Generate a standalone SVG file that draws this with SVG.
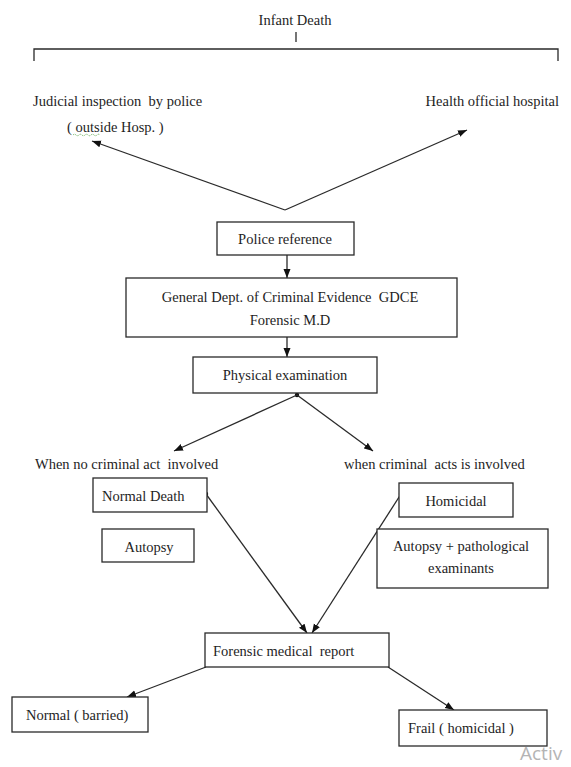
<svg xmlns="http://www.w3.org/2000/svg" width="571" height="767" viewBox="0 0 571 767">
<style>
  text { font-family: "Liberation Serif", "Times New Roman", serif; font-size: 14.5px; fill: #1e1e1e; }
  .box { fill: #ffffff; stroke: #2a2a2a; stroke-width: 1.3; }
  .ln { fill: none; stroke: #2a2a2a; stroke-width: 1.3; }
  .arr { marker-end: url(#ah); }
  .mid { text-anchor: middle; }
  .end { text-anchor: end; }
  .dot { fill: #111; }
  .wm { font-family: "Open Sans", "Noto Sans", sans-serif; font-size: 19px; fill: #b4b4b4; }
</style>
<defs>
  <marker id="ah" markerUnits="userSpaceOnUse" markerWidth="10" markerHeight="8" refX="9" refY="4" orient="auto">
    <path d="M0,0.5 L9,4 L0,7.5 Z" fill="#111"/>
  </marker>
</defs>
<rect width="571" height="767" fill="#ffffff"/>

<g id="connectors">
  <line class="ln" x1="296" y1="32" x2="296" y2="42"/>
  <path class="ln" d="M34,61 V49 H558 V61"/>
  <line class="ln arr" x1="285" y1="210" x2="92" y2="141"/>
  <line class="ln arr" x1="285" y1="210" x2="467" y2="130"/>
  <line class="ln arr" x1="287" y1="255" x2="287" y2="278"/>
  <line class="ln arr" x1="287" y1="337" x2="287" y2="357"/>
  <circle class="dot" cx="297" cy="395" r="2.2"/>
  <line class="ln arr" x1="297" y1="395" x2="174" y2="451"/>
  <line class="ln arr" x1="297" y1="395" x2="373" y2="451"/>
  <circle class="dot" cx="206" cy="494" r="2.2"/>
  <line class="ln arr" x1="206" y1="494" x2="307" y2="633"/>
  <circle class="dot" cx="401" cy="494" r="2.2"/>
  <line class="ln arr" x1="401" y1="494" x2="312" y2="633"/>
  <line class="ln arr" x1="206" y1="667" x2="127" y2="697"/>
  <line class="ln arr" x1="388" y1="667" x2="454" y2="710"/>
</g>

<g id="infant-death">
  <text class="mid" x="295" y="25">Infant Death</text>
</g>
<g id="judicial">
  <text x="33" y="106" xml:space="preserve">Judicial inspection  by police</text>
  <text x="67" y="132">( outside Hosp. )</text>
  <path d="M73,135 q1.5,-1.5 3,0 t3,0 t3,0 t3,0 t3,0 t3,0 t3,0 t3,0 t3,0" fill="none" stroke="#5aa64a" stroke-width="0.8" stroke-dasharray="1.2,0.8"/>
</g>
<g id="health">
  <text class="end" x="559" y="106">Health official hospital</text>
</g>
<g id="police-reference">
  <rect class="box" x="217" y="222" width="137" height="33"/>
  <text class="mid" x="285" y="244">Police reference</text>
</g>
<g id="gdce">
  <rect class="box" x="126" y="278" width="331" height="59"/>
  <text class="mid" x="290" y="302" xml:space="preserve">General Dept. of Criminal Evidence  GDCE</text>
  <text class="mid" x="290" y="325">Forensic M.D</text>
</g>
<g id="physical">
  <rect class="box" x="193" y="357" width="184" height="36"/>
  <text class="mid" x="285" y="380">Physical examination</text>
</g>
<g id="no-criminal">
  <text x="35" y="469" xml:space="preserve">When no criminal act  involved</text>
</g>
<g id="criminal">
  <text x="344" y="469" xml:space="preserve">when criminal  acts is involved</text>
</g>
<g id="normal-death">
  <rect class="box" x="93" y="478" width="114" height="34"/>
  <text x="102" y="501">Normal Death</text>
</g>
<g id="autopsy">
  <rect class="box" x="102" y="529" width="92" height="33"/>
  <text class="mid" x="149" y="552">Autopsy</text>
</g>
<g id="homicidal">
  <rect class="box" x="399" y="483" width="114" height="34"/>
  <text class="mid" x="456" y="506">Homicidal</text>
</g>
<g id="autopsy-path">
  <rect class="box" x="377" y="529" width="171" height="59"/>
  <text class="mid" x="461" y="551">Autopsy + pathological</text>
  <text class="mid" x="461" y="573">examinants</text>
</g>
<g id="forensic-report">
  <rect class="box" x="205" y="633" width="184" height="34"/>
  <text x="213" y="656" xml:space="preserve">Forensic medical  report</text>
</g>
<g id="normal-barried">
  <rect class="box" x="12" y="697" width="136" height="35"/>
  <text x="26" y="720">Normal ( barried)</text>
</g>
<g id="frail">
  <rect class="box" x="399" y="710" width="148" height="36"/>
  <text x="408" y="733">Frail ( homicidal )</text>
</g>
<text class="wm" x="520" y="760">Activ</text>
</svg>
